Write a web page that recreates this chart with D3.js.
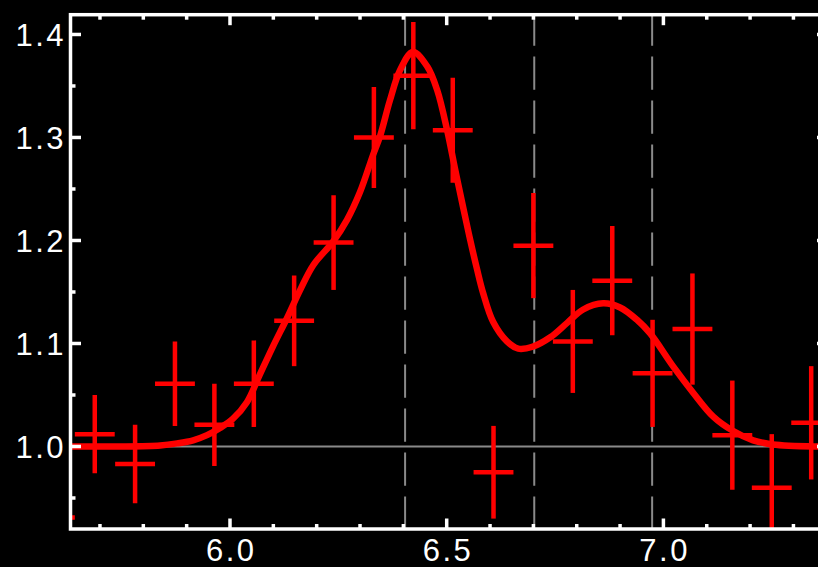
<!DOCTYPE html>
<html><head><meta charset="utf-8">
<script src="https://cdn.jsdelivr.net/npm/d3@7"></script>
<style>html,body{margin:0;padding:0;background:#000;overflow:hidden}</style>
</head><body><svg id="c" width="818" height="567"></svg>
<script>
// ---- data ----
const xMajorTicks = [6.0, 6.5, 7.0];
const xMajorLabels = ["6.0", "6.5", "7.0"];
const xMinorTicks = [5.7, 5.8, 5.9, 6.1, 6.2, 6.3, 6.4, 6.6, 6.7, 6.8, 6.9, 7.1, 7.2, 7.3];
const yMajorTicks = [1.0, 1.1, 1.2, 1.3, 1.4];
const yMajorLabels = ["1.0", "1.1", "1.2", "1.3", "1.4"];
const yMinorTicks = [0.95, 1.05, 1.15, 1.25, 1.35];

const energy   = [5.596, 5.688, 5.781, 5.873, 5.964, 6.055, 6.148, 6.239, 6.332, 6.423, 6.514, 6.608, 6.700, 6.791, 6.882, 6.975, 7.067, 7.159, 7.250, 7.341];
const ratio    = [0.931, 1.012, 0.983, 1.061, 1.021, 1.061, 1.122, 1.198, 1.300, 1.360, 1.307, 0.975, 1.195, 1.102, 1.161, 1.071, 1.114, 1.011, 0.960, 1.023];
const ratioErr = [0.045, 0.038, 0.038, 0.041, 0.040, 0.042, 0.044, 0.046, 0.049, 0.052, 0.051, 0.045, 0.051, 0.050, 0.053, 0.052, 0.054, 0.053, 0.052, 0.055];
const binHalfWidth = 0.046;

const fitX = [5.635, 5.746, 5.839, 5.878, 5.915, 5.947, 5.977, 6.007, 6.039, 6.069, 6.099, 6.132, 6.162, 6.192, 6.238, 6.270, 6.300, 6.330, 6.346, 6.369, 6.392, 6.422, 6.455, 6.478, 6.501, 6.519, 6.538, 6.554, 6.570, 6.584, 6.607, 6.639, 6.665, 6.699, 6.739, 6.778, 6.815, 6.861, 6.900, 6.939, 6.969, 7.022, 7.069, 7.115, 7.161, 7.207, 7.253, 7.357, 7.380];
const fitY = [1.000, 1.000, 1.001, 1.003, 1.006, 1.011, 1.018, 1.027, 1.043, 1.070, 1.097, 1.125, 1.152, 1.176, 1.199, 1.220, 1.247, 1.283, 1.301, 1.336, 1.365, 1.383, 1.369, 1.346, 1.307, 1.270, 1.232, 1.201, 1.172, 1.149, 1.121, 1.102, 1.095, 1.097, 1.106, 1.120, 1.133, 1.139, 1.135, 1.123, 1.110, 1.078, 1.052, 1.029, 1.015, 1.006, 1.002, 1.000, 1.000];

const lineEnergies = [6.404, 6.702, 6.974];
const baselineValue = 1.0;

// ---- layout ----
const L = 70.5, R = 827.5, T = 14.7, B = 529;
const x = d3.scaleLinear().domain([5.632, 7.3786]).range([L, R]);
const y = d3.scaleLinear().domain([0.9199, 1.4192]).range([B, T]);

const svg = d3.select("#c");
svg.append("rect").attr("width", 818).attr("height", 567).attr("fill", "#000");

svg.append("defs").append("clipPath").attr("id", "plot")
  .append("rect").attr("x", L).attr("y", T).attr("width", R - L).attr("height", B - T);

const g = svg.append("g").attr("clip-path", "url(#plot)");

// baseline
g.append("line").attr("x1", L).attr("x2", R)
  .attr("y1", y(baselineValue)).attr("y2", y(baselineValue))
  .attr("stroke", "#8a8a8a").attr("stroke-width", 2);

// dashed line energies
g.selectAll("line.le").data(lineEnergies).join("line").attr("class", "le")
  .attr("x1", d => x(d)).attr("x2", d => x(d)).attr("y1", T).attr("y2", B)
  .attr("stroke", "#8a8a8a").attr("stroke-width", 2)
  .attr("stroke-dasharray", "33.3 10.7").attr("stroke-dashoffset", 2.3);

// error bars
const pts = energy.map((e, i) => ({e, r: ratio[i], s: ratioErr[i]}));
g.selectAll("line.h").data(pts).join("line").attr("class", "h")
  .attr("x1", d => x(d.e - binHalfWidth)).attr("x2", d => x(d.e + binHalfWidth))
  .attr("y1", d => y(d.r)).attr("y2", d => y(d.r))
  .attr("stroke", "#ff0000").attr("stroke-width", 4.5);
g.selectAll("line.v").data(pts).join("line").attr("class", "v")
  .attr("x1", d => x(d.e)).attr("x2", d => x(d.e))
  .attr("y1", d => y(d.r - d.s)).attr("y2", d => y(d.r + d.s))
  .attr("stroke", "#ff0000").attr("stroke-width", 4.5);

// fit curve
const fit = fitX.map((v, i) => [v, fitY[i]]);
g.append("path").datum(fit)
  .attr("d", d3.line().x(d => x(d[0])).y(d => y(d[1])).curve(d3.curveCatmullRom.alpha(0.5)))
  .attr("fill", "none").attr("stroke", "#ff0000").attr("stroke-width", 6.5)
  .attr("stroke-linejoin", "round");

// frame
svg.append("rect").attr("x", L).attr("y", T).attr("width", R - L).attr("height", B - T)
  .attr("fill", "none").attr("stroke", "#fff").attr("stroke-width", 3.5);

const tk = svg.append("g").attr("stroke", "#fff").attr("stroke-width", 3.5);
const maj = 10.5, min = 5;
// bottom & top
xMajorTicks.forEach(v => {
  tk.append("line").attr("x1", x(v)).attr("x2", x(v)).attr("y1", B).attr("y2", B - maj);
  tk.append("line").attr("x1", x(v)).attr("x2", x(v)).attr("y1", T).attr("y2", T + maj);
});
xMinorTicks.forEach(v => {
  tk.append("line").attr("x1", x(v)).attr("x2", x(v)).attr("y1", B).attr("y2", B - min);
  tk.append("line").attr("x1", x(v)).attr("x2", x(v)).attr("y1", T).attr("y2", T + min);
});
// left & right
yMajorTicks.forEach(v => {
  tk.append("line").attr("y1", y(v)).attr("y2", y(v)).attr("x1", L).attr("x2", L + maj);
  tk.append("line").attr("y1", y(v)).attr("y2", y(v)).attr("x1", R).attr("x2", R - maj);
});
yMinorTicks.forEach(v => {
  tk.append("line").attr("y1", y(v)).attr("y2", y(v)).attr("x1", L).attr("x2", L + min);
  tk.append("line").attr("y1", y(v)).attr("y2", y(v)).attr("x1", R).attr("x2", R - min);
});

// labels
const font = "'Liberation Sans', Arial, Helvetica, sans-serif";
const ls = 2.5;
svg.selectAll("text.xl").data(xMajorTicks).join("text").attr("class", "xl")
  .attr("x", d => x(d) + ls / 2).attr("y", 561)
  .attr("text-anchor", "middle").attr("fill", "#fff")
  .attr("font-family", font).attr("font-size", 31).attr("letter-spacing", ls)
  .text((d, i) => xMajorLabels[i]);
svg.selectAll("text.yl").data(yMajorTicks).join("text").attr("class", "yl")
  .attr("x", 63.5 + ls).attr("y", d => y(d) + 12)
  .attr("text-anchor", "end").attr("fill", "#fff")
  .attr("font-family", font).attr("font-size", 31).attr("letter-spacing", ls)
  .text((d, i) => yMajorLabels[i]);
</script></body></html>
